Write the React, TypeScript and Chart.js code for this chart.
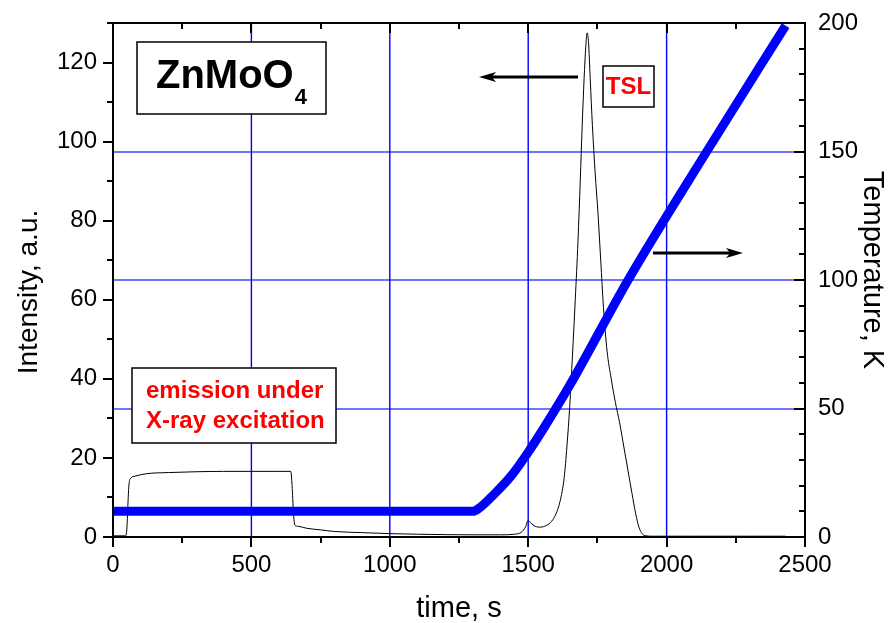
import React, { useEffect, useRef } from 'react';
import { Chart, registerables } from 'chart.js';

Chart.register(...registerables);

const FONT = '"Liberation Sans", Arial, Helvetica, sans-serif';

// ---- Data ----
// TSL / X-ray luminescence intensity (left axis, a.u.)
const tslTime = [
  0, 45, 50, 55, 58, 62, 80, 120, 200, 300, 400, 500, 600, 642, 647, 652, 657, 670, 700, 750,
  800, 900, 1000, 1100, 1200, 1300, 1400, 1450, 1475, 1490, 1500, 1510, 1525, 1545, 1565, 1585,
  1600, 1615, 1630, 1640, 1650, 1660, 1670, 1680, 1688, 1695, 1702, 1708, 1713, 1718, 1724, 1732,
  1742, 1752, 1762, 1772, 1785, 1800, 1815, 1830, 1845, 1860, 1875, 1888, 1900, 1912, 1925, 1950,
  2100, 2300, 2430,
];
const tslIntensity = [
  0.3, 0.3, 2, 10, 13.5, 14.7, 15.4, 16.0, 16.3, 16.5, 16.6, 16.6, 16.6, 16.6, 13, 6, 3.0, 2.7, 2.2, 1.8,
  1.4, 1.1, 0.85, 0.7, 0.6, 0.55, 0.55, 0.7, 1.2, 2.5, 4.2, 3.5, 2.7, 2.5, 2.9, 4,
  5.8, 9, 15, 23, 33, 46, 60, 75, 90, 104, 116, 124, 127.5, 125, 116, 104,
  92, 82, 70, 58, 47, 40, 34, 29, 23, 17, 11, 6, 2.5, 0.8, 0.3, 0.2,
  0.2, 0.2, 0.2,
];

// Temperature (right axis, K)
const tempTime = [0, 1300, 1320, 1380, 1440, 1500, 1560, 1650, 1861, 2145, 2430];
const tempKelvin = [10, 10, 11, 17, 24, 33, 43, 59, 100, 150, 199];

// Axis ranges / tick labels
const xMin = 0, xMax = 2500, xMajor = 500, xMinor = 250;
const yMin = 0, yMax = 130, yMajor = 20, yMinor = 10;
const y2Min = 0, y2Max = 200, y2Major = 50, y2Minor = 10;
const xGridValues = [500, 1000, 1500, 2000];
const y2GridValues = [50, 100, 150];

const xTitle = 'time, s';
const yTitle = 'Intensity, a.u.';
const y2Title = 'Temperature, K';

const gridPlugin = {
  id: 'customGrid',
  beforeDatasetsDraw(chart: any) {
    const ctx = chart.ctx as CanvasRenderingContext2D;
    const { left, right, top, bottom } = chart.chartArea;
    const sx = chart.scales.x;
    const sy2 = chart.scales.y2;
    ctx.save();
    ctx.strokeStyle = 'rgba(0,0,255,0.55)';
    ctx.lineWidth = 2;
    ctx.beginPath();
    for (const v of y2GridValues) {
      const p = Math.round(sy2.getPixelForValue(v));
      ctx.moveTo(left, p);
      ctx.lineTo(right, p);
    }
    ctx.stroke();
    ctx.strokeStyle = '#0000ff';
    ctx.lineWidth = 1.4;
    ctx.beginPath();
    for (const v of xGridValues) {
      const p = sx.getPixelForValue(v);
      ctx.moveTo(p, top);
      ctx.lineTo(p, bottom);
    }
    ctx.stroke();
    ctx.restore();
  },
};

const decorPlugin = {
  id: 'decor',
  afterDraw(chart: any) {
    const ctx = chart.ctx as CanvasRenderingContext2D;
    const { left, right, top, bottom } = chart.chartArea;
    const sx = chart.scales.x;
    const sy = chart.scales.y;
    const sy2 = chart.scales.y2;
    ctx.save();
    ctx.strokeStyle = '#000';
    ctx.lineWidth = 2;
    ctx.lineCap = 'butt';
    // frame
    ctx.beginPath();
    ctx.rect(left, top, right - left, bottom - top);
    ctx.stroke();
    // x ticks (bottom outward, top inward)
    ctx.beginPath();
    for (let v = xMin; v <= xMax; v += xMinor) {
      const p = Math.round(sx.getPixelForValue(v));
      const len = v % xMajor === 0 ? 10 : 6;
      ctx.moveTo(p, bottom);
      ctx.lineTo(p, bottom + len);
      ctx.moveTo(p, top);
      ctx.lineTo(p, top + len);
    }
    // left ticks outward
    for (let v = yMin; v <= yMax; v += yMinor) {
      const p = Math.round(sy.getPixelForValue(v));
      const len = v % yMajor === 0 ? 10 : 6;
      ctx.moveTo(left, p);
      ctx.lineTo(left - len, p);
    }
    // right ticks inward
    for (let v = y2Min; v <= y2Max; v += y2Minor) {
      const p = Math.round(sy2.getPixelForValue(v));
      const len = v % y2Major === 0 ? 11 : 6;
      ctx.moveTo(right, p);
      ctx.lineTo(right - len, p);
    }
    ctx.stroke();

    // axis titles
    ctx.fillStyle = '#000';
    ctx.textBaseline = 'alphabetic';
    ctx.textAlign = 'center';
    ctx.font = `29px ${FONT}`;
    ctx.fillText(xTitle, (left + right) / 2, 617);
    ctx.save();
    ctx.translate(37, 292);
    ctx.rotate(-Math.PI / 2);
    ctx.font = `28px ${FONT}`;
    ctx.fillText(yTitle, 0, 0);
    ctx.restore();
    ctx.save();
    ctx.translate(864, 270);
    ctx.rotate(Math.PI / 2);
    ctx.font = `29px ${FONT}`;
    ctx.fillText(y2Title, 0, 0);
    ctx.restore();

    // annotation boxes
    const box = (x0: number, y0: number, x1: number, y1: number) => {
      ctx.fillStyle = '#fff';
      ctx.fillRect(x0, y0, x1 - x0, y1 - y0);
      ctx.strokeStyle = '#000';
      ctx.lineWidth = 1.5;
      ctx.strokeRect(x0, y0, x1 - x0, y1 - y0);
    };
    // ZnMoO4
    box(137, 42, 326, 114);
    ctx.fillStyle = '#000';
    ctx.textBaseline = 'alphabetic';
    ctx.textAlign = 'left';
    ctx.font = `bold 40px ${FONT}`;
    ctx.fillText('ZnMoO', 156, 88);
    const w = ctx.measureText('ZnMoO').width;
    ctx.font = `bold 22px ${FONT}`;
    ctx.fillText('4', 156 + w + 1, 104);

    // TSL
    box(603, 66, 654, 107);
    ctx.fillStyle = '#ff0000';
    ctx.font = `bold 24px ${FONT}`;
    ctx.textAlign = 'center';
    ctx.fillText('TSL', 628.5, 94);

    // emission under X-ray excitation
    box(132, 368, 336, 443);
    ctx.fillStyle = '#ff0000';
    ctx.font = `bold 24px ${FONT}`;
    ctx.textAlign = 'left';
    ctx.fillText('emission under', 146, 398);
    ctx.fillText('X-ray excitation', 146, 428);

    // arrows
    const arrow = (x0: number, x1: number, y: number) => {
      const dir = x1 > x0 ? 1 : -1;
      const headLen = 17;
      ctx.strokeStyle = '#000';
      ctx.lineWidth = 3;
      ctx.beginPath();
      ctx.moveTo(x0, y);
      ctx.lineTo(x1 - dir * headLen * 0.6, y);
      ctx.stroke();
      ctx.fillStyle = '#000';
      ctx.beginPath();
      ctx.moveTo(x1, y);
      ctx.lineTo(x1 - dir * headLen, y - 5);
      ctx.lineTo(x1 - dir * headLen * 0.75, y);
      ctx.lineTo(x1 - dir * headLen, y + 5);
      ctx.closePath();
      ctx.fill();
    };
    arrow(578, 479, 77);
    arrow(653, 743, 253);

    ctx.restore();
  },
};

export default function App() {
  const ref = useRef<HTMLCanvasElement | null>(null);

  useEffect(() => {
    if (!ref.current) return;
    const tickFont = { family: FONT, size: 24 };
    const zeroPad = (s: any) => {
      s.paddingTop = 0;
      s.paddingBottom = 0;
      s.paddingLeft = 0;
      s.paddingRight = 0;
    };
    const chart = new Chart(ref.current, {
      type: 'line',
      data: {
        datasets: [
          {
            label: 'Temperature',
            data: tempTime.map((t, i) => ({ x: t, y: tempKelvin[i] })),
            yAxisID: 'y2',
            borderColor: '#0000ff',
            borderWidth: 9,
            pointRadius: 0,
            cubicInterpolationMode: 'monotone',
            borderJoinStyle: 'round',
            order: 0,
          },
          {
            label: 'TSL',
            data: tslTime.map((t, i) => ({ x: t, y: tslIntensity[i] })),
            yAxisID: 'y',
            borderColor: '#000000',
            borderWidth: 1,
            pointRadius: 0,
            cubicInterpolationMode: 'monotone',
            order: 1,
          },
        ],
      },
      options: {
        animation: false,
        responsive: false,
        events: [],
        layout: { padding: { top: 23, left: 0, right: 0, bottom: 0 } },
        plugins: { legend: { display: false }, tooltip: { enabled: false } },
        scales: {
          x: {
            type: 'linear',
            position: 'bottom',
            min: xMin,
            max: xMax,
            ticks: {
              stepSize: xMinor,
              autoSkip: false,
              maxRotation: 0,
              padding: 14,
              color: '#000',
              font: tickFont,
              callback: (v: any) => (Number(v) % xMajor === 0 ? String(v) : ''),
            },
            grid: { display: false, drawTicks: false },
            border: { display: false },
            title: { display: false },
            afterFit: (s: any) => { s.height = 86; zeroPad(s); },
          },
          y: {
            type: 'linear',
            position: 'left',
            min: yMin,
            max: yMax,
            ticks: {
              stepSize: yMinor,
              autoSkip: false,
              padding: 16,
              color: '#000',
              font: tickFont,
              callback: (v: any) => (Number(v) % yMajor === 0 ? String(v) : ''),
            },
            grid: { display: false, drawTicks: false },
            border: { display: false },
            title: { display: false },
            afterFit: (s: any) => { s.width = 113; zeroPad(s); },
          },
          y2: {
            type: 'linear',
            position: 'right',
            min: y2Min,
            max: y2Max,
            ticks: {
              stepSize: y2Minor,
              autoSkip: false,
              padding: 13,
              color: '#000',
              font: tickFont,
              callback: (v: any) => (Number(v) % y2Major === 0 ? String(v) : ''),
            },
            grid: { display: false, drawTicks: false },
            border: { display: false },
            title: { display: false },
            afterFit: (s: any) => { s.width = 91; zeroPad(s); },
          },
        },
      },
      plugins: [gridPlugin, decorPlugin],
    } as any);
    return () => chart.destroy();
  }, []);

  return (
    <div style={{ position: 'absolute', left: 0, top: 0, width: 896, height: 623, background: '#fff' }}>
      <canvas ref={ref} width={896} height={623} style={{ display: 'block', width: 896, height: 623 }} />
    </div>
  );
}
